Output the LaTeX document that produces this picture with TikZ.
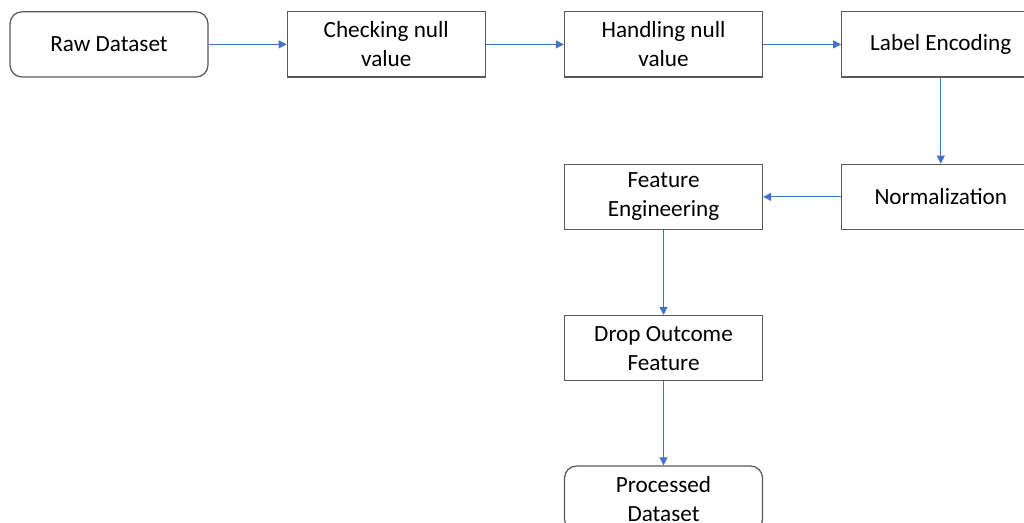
\documentclass[tikz,border=0pt]{standalone}
\usepackage{fontspec}
\setmainfont{Carlito}
\usetikzlibrary{arrows.meta,positioning}
\definecolor{linkblue}{HTML}{4472C4}
\definecolor{edge}{HTML}{5A5A5A}
\begin{document}
\begin{tikzpicture}[>={Triangle[length=2mm,width=2mm]},node distance=2.15cm and 1.95cm,
 n/.style={draw=edge,fill=white,line width=.9pt,align=center,font=\fontsize{16.5}{20.6}\selectfont,minimum width=4.95cm,minimum height=1.63cm,inner sep=1pt},
 r/.style={n,rounded corners=3mm},a/.style={->,draw=linkblue,line width=.7pt}]
\useasboundingbox (0,0) rectangle (25.6,-13.075);
\clip (0,0) rectangle (25.6,-13.075);
\node[r] (raw) at (2.725,-1.11) {Raw Dataset};
\node[n,right=of raw] (check) {Checking null\\value};
\node[n,right=of check] (handle) {Handling null\\value};
\node[n,right=of handle] (label) {Label Encoding};
\node[n,below=of label] (norm) {Normalization};
\node[n,left=of norm] (feat) {Feature\\Engineering};
\node[n,below=2.12cm of feat] (drop) {Drop Outcome\\Feature};
\node[r,below=2.1cm of drop] (proc) {Processed\\Dataset};
\draw[a] (raw)--(check);\draw[a] (check)--(handle);\draw[a] (handle)--(label);
\draw[a] (label)--(norm);\draw[a] (norm)--(feat);\draw[a] (feat)--(drop);\draw[a] (drop)--(proc);
\end{tikzpicture}
\end{document}
